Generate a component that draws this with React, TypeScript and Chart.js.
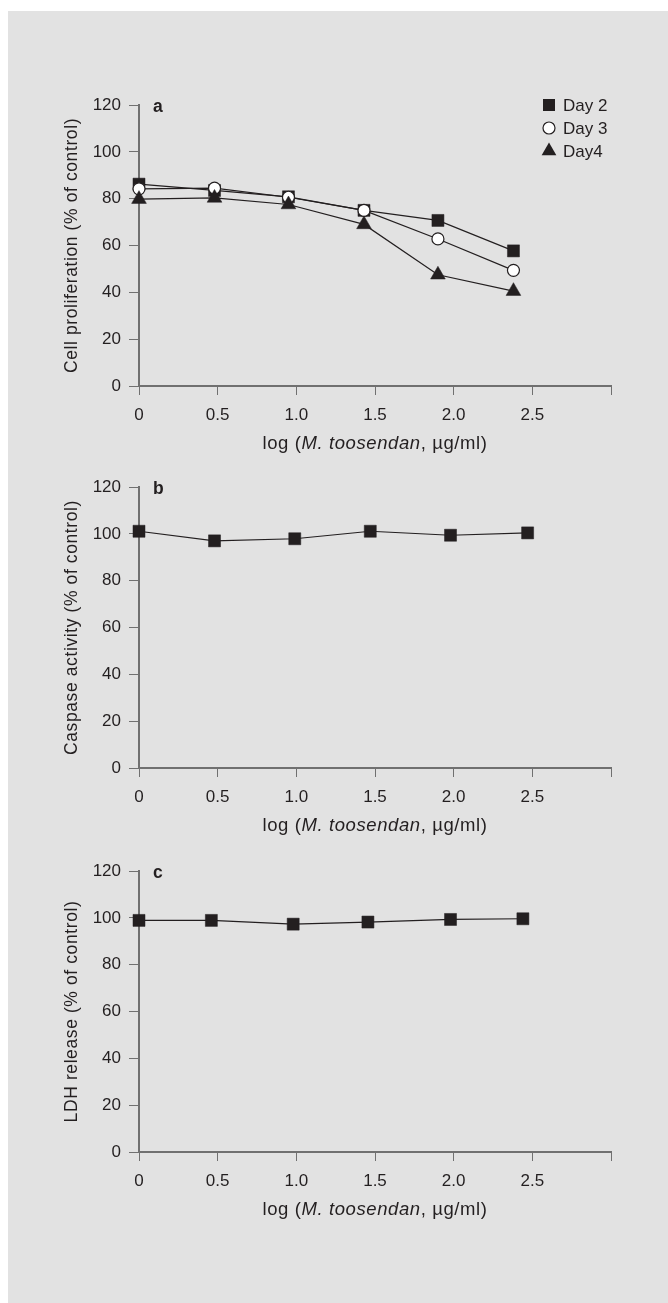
import React, { useEffect, useRef } from 'react';
import { Chart, registerables } from 'chart.js';

Chart.register(...registerables);

// ---------- data ----------
const xTickLabels = ['0', '0.5', '1.0', '1.5', '2.0', '2.5', ''];
const yTickLabels = ['0', '20', '40', '60', '80', '100', '120'];

const xA = [0, 0.48, 0.95, 1.43, 1.9, 2.38];
const day2 = [86.2, 83.5, 80.8, 75.0, 70.7, 57.7];
const day3 = [84.2, 84.5, 80.6, 75.0, 62.8, 49.4];
const day4 = [79.8, 80.3, 77.5, 69.0, 47.5, 40.5];

const xB = [0, 0.48, 0.99, 1.47, 1.98, 2.47];
const caspase = [101.1, 97.0, 97.9, 101.1, 99.4, 100.4];

const xC = [0, 0.46, 0.98, 1.455, 1.98, 2.44];
const ldh = [98.9, 98.9, 97.3, 98.2, 99.3, 99.6];

const seriesLabels = ['Day 2', 'Day 3', 'Day4'];
const xTitleParts: [string, boolean][] = [
  ['log (', false],
  ['M. toosendan', true],
  [', \u00b5g/ml)', false],
];
const yTitles = ['Cell proliferation (% of control)', 'Caspase activity (% of control)', 'LDH release (% of control)'];
const panelLetters = ['a', 'b', 'c'];

// ---------- style ----------
const INK = '#231f20';
const AXIS = '#707070';
const BG = '#e2e2e2';
const FAMILY = '"Liberation Sans", Arial, Helvetica, sans-serif';
const W = 668;
const PAD_TOP = 40;
const AREA_H = 281;
const X_H = 80;
const CANVAS_H = PAD_TOP + AREA_H + X_H;

function pts(xs: number[], ys: number[]) {
  return xs.map((x, i) => ({ x, y: ys[i] }));
}

function drawMarker(ctx: CanvasRenderingContext2D, style: string, x: number, y: number) {
  ctx.save();
  ctx.fillStyle = INK;
  ctx.strokeStyle = INK;
  if (style === 'rect') {
    ctx.fillRect(x - 6, y - 6, 12, 12);
  } else if (style === 'circle') {
    ctx.beginPath();
    ctx.arc(x, y, 6, 0, Math.PI * 2);
    ctx.fillStyle = '#ffffff';
    ctx.fill();
    ctx.lineWidth = 1.2;
    ctx.stroke();
  } else {
    const r = 8.5;
    ctx.beginPath();
    ctx.moveTo(x, y - r);
    ctx.lineTo(x + r * Math.sin((2 * Math.PI) / 3), y + r / 2);
    ctx.lineTo(x - r * Math.sin((2 * Math.PI) / 3), y + r / 2);
    ctx.closePath();
    ctx.fill();
  }
  ctx.restore();
}

const decor = {
  id: 'decor',
  afterDraw(chart: any, _args: any, opts: any) {
    const ctx: CanvasRenderingContext2D = chart.ctx;
    const ca = chart.chartArea;
    ctx.save();
    ctx.fillStyle = INK;

    // x title with italic species name
    (ctx as any).letterSpacing = '0.6px';
    const size = 18.5;
    let total = 0;
    const widths = xTitleParts.map(([t, it]) => {
      ctx.font = `${it ? 'italic ' : ''}${size}px ${FAMILY}`;
      const w = ctx.measureText(t).width;
      total += w;
      return w;
    });
    let x = (ca.left + ca.right) / 2 - total / 2;
    ctx.textBaseline = 'alphabetic';
    ctx.textAlign = 'left';
    xTitleParts.forEach(([t, it], i) => {
      ctx.font = `${it ? 'italic ' : ''}${size}px ${FAMILY}`;
      ctx.fillText(t, x, ca.bottom + 63);
      x += widths[i];
    });

    // y title
    ctx.save();
    (ctx as any).letterSpacing = '0.6px';
    ctx.font = `17.5px ${FAMILY}`;
    ctx.translate(77, (ca.top + ca.bottom) / 2);
    ctx.rotate(-Math.PI / 2);
    ctx.textAlign = 'center';
    ctx.fillText(opts.yTitle, 0, 0);
    ctx.restore();

    // panel letter
    (ctx as any).letterSpacing = '0px';
    ctx.font = `bold 17.5px ${FAMILY}`;
    ctx.textAlign = 'left';
    ctx.fillText(opts.letter, ca.left + 14, ca.top + 7);

    // legend
    if (opts.legend) {
      ctx.font = `17px ${FAMILY}`;
      ctx.textBaseline = 'middle';
      chart.data.datasets.forEach((ds: any, i: number) => {
        const y = ca.top + i * 23;
        drawMarker(ctx, ds.pointStyle, ca.right - 62, y);
        ctx.fillStyle = INK;
        ctx.fillText(ds.label, ca.right - 48, y + 1);
      });
    }
    ctx.restore();
  },
};

function makeDataset(label: string, data: any[], style: string, order: number) {
  const isCircle = style === 'circle';
  return {
    label,
    data,
    showLine: true,
    borderColor: INK,
    borderWidth: 1.2,
    pointStyle: style,
    pointRadius: style === 'rect' ? 8.5 : isCircle ? 6 : 8.5,
    pointBackgroundColor: isCircle ? '#ffffff' : INK,
    pointBorderColor: INK,
    pointBorderWidth: isCircle ? 1.2 : 0.5,
    clip: false as any,
    order,
  };
}

function Panel({ top, index, datasets, legend }: { top: number; index: number; datasets: any[]; legend: boolean }) {
  const ref = useRef<HTMLCanvasElement>(null);
  useEffect(() => {
    if (!ref.current) return;
    const tickFont = { family: FAMILY, size: 17 };
    const chart = new Chart(ref.current, {
      type: 'scatter',
      data: { datasets },
      plugins: [decor as any],
      options: {
        animation: false,
        responsive: false,
        devicePixelRatio: 1,
        layout: { padding: { left: 0, right: 57, top: PAD_TOP, bottom: 0 } },
        plugins: {
          legend: { display: false },
          tooltip: { enabled: false },
          decor: { yTitle: yTitles[index], letter: panelLetters[index], legend },
        } as any,
        scales: {
          x: {
            type: 'linear',
            min: 0,
            max: 3,
            afterFit: (s: any) => {
              s.height = X_H;
            },
            ticks: {
              stepSize: 0.5,
              autoSkip: false,
              maxRotation: 0,
              padding: 10,
              color: INK,
              font: tickFont,
              callback: (_v: any, i: number) => xTickLabels[i],
            },
            grid: { display: true, drawOnChartArea: false, drawTicks: true, tickLength: 9, color: AXIS, lineWidth: 1 },
            border: { display: true, color: AXIS, width: 2 },
          },
          y: {
            type: 'linear',
            min: 0,
            max: 120,
            afterFit: (s: any) => {
              s.width = 139;
            },
            ticks: {
              stepSize: 20,
              autoSkip: false,
              padding: 8,
              color: INK,
              font: tickFont,
              callback: (_v: any, i: number) => yTickLabels[i],
            },
            grid: { display: true, drawOnChartArea: false, drawTicks: true, tickLength: 10, color: AXIS, lineWidth: 1 },
            border: { display: true, color: AXIS, width: 2 },
          },
        },
      },
    } as any);
    return () => chart.destroy();
  }, []);
  return (
    <canvas
      ref={ref}
      width={W}
      height={CANVAS_H}
      style={{ position: 'absolute', left: 0, top, width: W, height: CANVAS_H, display: 'block' }}
    />
  );
}

export default function App() {
  const dsA = [
    makeDataset(seriesLabels[0], pts(xA, day2), 'rect', 2),
    makeDataset(seriesLabels[1], pts(xA, day3), 'circle', 1),
    makeDataset(seriesLabels[2], pts(xA, day4), 'triangle', 0),
  ];
  const dsB = [makeDataset('Caspase', pts(xB, caspase), 'rect', 0)];
  const dsC = [makeDataset('LDH', pts(xC, ldh), 'rect', 0)];
  return (
    <div style={{ position: 'absolute', left: 0, top: 0, width: W, height: 1303, overflow: 'hidden' }}>
      <div style={{ position: 'absolute', left: 8, top: 11, width: 660, height: 1292, background: BG }} />
      <Panel top={105 - PAD_TOP} index={0} datasets={dsA} legend={true} />
      <Panel top={487 - PAD_TOP} index={1} datasets={dsB} legend={false} />
      <Panel top={871 - PAD_TOP} index={2} datasets={dsC} legend={false} />
    </div>
  );
}
